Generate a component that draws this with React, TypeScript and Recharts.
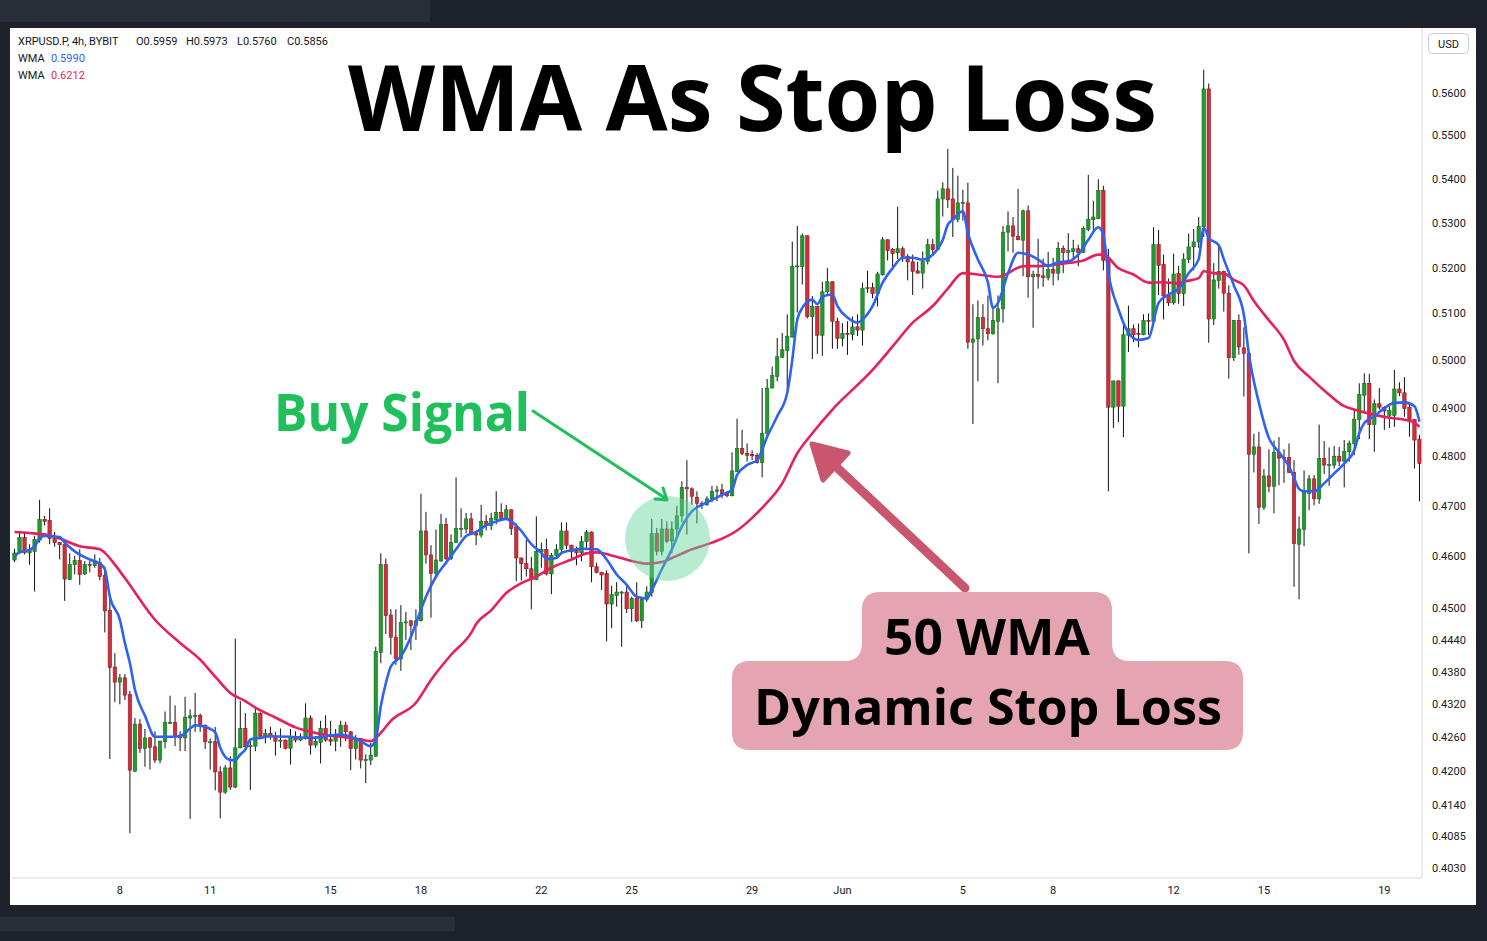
import React from 'react';
import { ComposedChart, Bar, Line, XAxis, YAxis } from 'recharts';

// 4h candles of XRPUSD.P (Bybit), first candle 2023-05-04 12:00 UTC
const startTime = Date.UTC(2023, 4, 4, 12);
const stepMs = 4 * 3600 * 1000;

// [open, high, low, close]
const candles: number[][] = [
  // 0-9
  [0.4593, 0.4615, 0.4589, 0.4607], [0.4607, 0.4648, 0.4606, 0.4637], [0.4637, 0.4648, 0.4604, 0.4607], [0.4607, 0.4624, 0.4584, 0.4614], [0.4610, 0.4640, 0.4532, 0.4633],
  [0.4632, 0.4712, 0.4627, 0.4673], [0.4673, 0.4680, 0.4661, 0.4669], [0.4671, 0.4695, 0.4624, 0.4635], [0.4635, 0.4648, 0.4619, 0.4627], [0.4627, 0.4628, 0.4594, 0.4623],
  // 10-19
  [0.4624, 0.4624, 0.4514, 0.4556], [0.4555, 0.4606, 0.4554, 0.4584], [0.4584, 0.4601, 0.4565, 0.4592], [0.4592, 0.4614, 0.4545, 0.4565], [0.4566, 0.4591, 0.4564, 0.4584],
  [0.4584, 0.4591, 0.4569, 0.4582], [0.4582, 0.4604, 0.4578, 0.4588], [0.4588, 0.4597, 0.4554, 0.4561], [0.4563, 0.4580, 0.4454, 0.4495], [0.4496, 0.4521, 0.4221, 0.4388],
  // 20-29
  [0.4389, 0.4415, 0.4324, 0.4361], [0.4361, 0.4376, 0.4320, 0.4369], [0.4369, 0.4376, 0.4328, 0.4337], [0.4338, 0.4345, 0.4090, 0.4201], [0.4199, 0.4295, 0.4198, 0.4284],
  [0.4284, 0.4293, 0.4232, 0.4240], [0.4240, 0.4275, 0.4207, 0.4259], [0.4259, 0.4260, 0.4202, 0.4242], [0.4243, 0.4271, 0.4214, 0.4219], [0.4219, 0.4254, 0.4213, 0.4253],
  // 30-39
  [0.4252, 0.4307, 0.4240, 0.4287], [0.4286, 0.4336, 0.4285, 0.4287], [0.4287, 0.4318, 0.4244, 0.4261], [0.4264, 0.4271, 0.4235, 0.4259], [0.4259, 0.4334, 0.4235, 0.4296],
  [0.4295, 0.4311, 0.4115, 0.4299], [0.4299, 0.4341, 0.4270, 0.4300], [0.4300, 0.4303, 0.4270, 0.4282], [0.4282, 0.4283, 0.4239, 0.4252], [0.4251, 0.4258, 0.4202, 0.4252],
  // 40-49
  [0.4252, 0.4279, 0.4165, 0.4198], [0.4198, 0.4208, 0.4116, 0.4162], [0.4162, 0.4210, 0.4159, 0.4205], [0.4205, 0.4226, 0.4166, 0.4171], [0.4171, 0.4442, 0.4169, 0.4241],
  [0.4241, 0.4326, 0.4240, 0.4276], [0.4276, 0.4304, 0.4235, 0.4243], [0.4243, 0.4253, 0.4166, 0.4245], [0.4244, 0.4316, 0.4235, 0.4304], [0.4304, 0.4305, 0.4258, 0.4262],
  // 50-59
  [0.4262, 0.4275, 0.4249, 0.4267], [0.4267, 0.4279, 0.4256, 0.4261], [0.4262, 0.4270, 0.4227, 0.4253], [0.4253, 0.4276, 0.4241, 0.4255], [0.4255, 0.4256, 0.4238, 0.4240],
  [0.4240, 0.4275, 0.4211, 0.4261], [0.4261, 0.4271, 0.4251, 0.4255], [0.4255, 0.4267, 0.4253, 0.4259], [0.4258, 0.4322, 0.4256, 0.4295], [0.4295, 0.4300, 0.4229, 0.4246],
  // 60-69
  [0.4246, 0.4262, 0.4241, 0.4253], [0.4251, 0.4290, 0.4213, 0.4276], [0.4276, 0.4300, 0.4252, 0.4255], [0.4256, 0.4290, 0.4245, 0.4253], [0.4253, 0.4275, 0.4235, 0.4261],
  [0.4261, 0.4290, 0.4243, 0.4282], [0.4282, 0.4288, 0.4253, 0.4270], [0.4270, 0.4271, 0.4201, 0.4240], [0.4240, 0.4264, 0.4220, 0.4258], [0.4258, 0.4259, 0.4204, 0.4219],
  // 70-79
  [0.4219, 0.4229, 0.4178, 0.4220], [0.4219, 0.4250, 0.4210, 0.4228], [0.4226, 0.4427, 0.4225, 0.4418], [0.4416, 0.4606, 0.4396, 0.4584], [0.4584, 0.4596, 0.4451, 0.4486],
  [0.4487, 0.4498, 0.4412, 0.4445], [0.4445, 0.4498, 0.4393, 0.4404], [0.4404, 0.4506, 0.4382, 0.4473], [0.4472, 0.4493, 0.4440, 0.4474], [0.4476, 0.4477, 0.4421, 0.4467],
  // 80-89
  [0.4467, 0.4498, 0.4440, 0.4476], [0.4476, 0.4724, 0.4475, 0.4650], [0.4650, 0.4688, 0.4586, 0.4603], [0.4603, 0.4622, 0.4482, 0.4567], [0.4567, 0.4653, 0.4557, 0.4593],
  [0.4591, 0.4684, 0.4590, 0.4663], [0.4663, 0.4676, 0.4593, 0.4596], [0.4596, 0.4643, 0.4593, 0.4627], [0.4627, 0.4757, 0.4626, 0.4655], [0.4654, 0.4695, 0.4637, 0.4655],
  // 90-99
  [0.4654, 0.4686, 0.4645, 0.4674], [0.4674, 0.4686, 0.4642, 0.4643], [0.4645, 0.4650, 0.4622, 0.4642], [0.4642, 0.4702, 0.4637, 0.4669], [0.4669, 0.4682, 0.4651, 0.4661],
  [0.4661, 0.4686, 0.4652, 0.4675], [0.4673, 0.4729, 0.4663, 0.4687], [0.4687, 0.4705, 0.4673, 0.4675], [0.4675, 0.4702, 0.4673, 0.4692], [0.4692, 0.4693, 0.4642, 0.4655],
  // 100-109
  [0.4658, 0.4665, 0.4552, 0.4597], [0.4597, 0.4598, 0.4553, 0.4586], [0.4586, 0.4633, 0.4561, 0.4576], [0.4576, 0.4599, 0.4498, 0.4556], [0.4555, 0.4679, 0.4554, 0.4610],
  [0.4609, 0.4627, 0.4578, 0.4614], [0.4614, 0.4635, 0.4563, 0.4566], [0.4566, 0.4607, 0.4527, 0.4602], [0.4602, 0.4624, 0.4599, 0.4614], [0.4614, 0.4667, 0.4604, 0.4650],
  // 110-119
  [0.4650, 0.4667, 0.4614, 0.4622], [0.4622, 0.4623, 0.4596, 0.4609], [0.4612, 0.4619, 0.4583, 0.4607], [0.4607, 0.4640, 0.4591, 0.4629], [0.4629, 0.4652, 0.4616, 0.4648],
  [0.4648, 0.4649, 0.4550, 0.4580], [0.4580, 0.4588, 0.4567, 0.4569], [0.4569, 0.4570, 0.4535, 0.4564], [0.4567, 0.4573, 0.4437, 0.4508], [0.4508, 0.4543, 0.4462, 0.4526],
  // 120-129
  [0.4524, 0.4550, 0.4503, 0.4531], [0.4529, 0.4533, 0.4427, 0.4531], [0.4531, 0.4542, 0.4491, 0.4499], [0.4499, 0.4522, 0.4474, 0.4519], [0.4519, 0.4550, 0.4474, 0.4476],
  [0.4476, 0.4522, 0.4462, 0.4517], [0.4517, 0.4542, 0.4512, 0.4531], [0.4530, 0.4674, 0.4522, 0.4645], [0.4645, 0.4656, 0.4602, 0.4610], [0.4610, 0.4674, 0.4602, 0.4654],
  // 130-139
  [0.4654, 0.4669, 0.4626, 0.4630], [0.4630, 0.4669, 0.4606, 0.4654], [0.4654, 0.4700, 0.4641, 0.4680], [0.4680, 0.4749, 0.4667, 0.4737], [0.4737, 0.4792, 0.4643, 0.4734],
  [0.4734, 0.4737, 0.4702, 0.4719], [0.4717, 0.4729, 0.4665, 0.4705], [0.4705, 0.4709, 0.4694, 0.4702], [0.4702, 0.4719, 0.4700, 0.4714], [0.4714, 0.4740, 0.4707, 0.4729],
  // 140-149
  [0.4729, 0.4740, 0.4709, 0.4732], [0.4732, 0.4744, 0.4715, 0.4724], [0.4725, 0.4729, 0.4717, 0.4720], [0.4720, 0.4808, 0.4719, 0.4770], [0.4769, 0.4877, 0.4768, 0.4816],
  [0.4816, 0.4854, 0.4802, 0.4806], [0.4806, 0.4826, 0.4789, 0.4802], [0.4804, 0.4812, 0.4792, 0.4801], [0.4802, 0.4806, 0.4785, 0.4787], [0.4787, 0.4941, 0.4757, 0.4847],
  // 150-159
  [0.4847, 0.4960, 0.4840, 0.4941], [0.4941, 0.4986, 0.4940, 0.4967], [0.4965, 0.5047, 0.4955, 0.5007], [0.5006, 0.5058, 0.5004, 0.5022], [0.5020, 0.5098, 0.4936, 0.5051],
  [0.5049, 0.5258, 0.5048, 0.5203], [0.5202, 0.5293, 0.5102, 0.5204], [0.5203, 0.5276, 0.5163, 0.5271], [0.5271, 0.5272, 0.5089, 0.5093], [0.5093, 0.5138, 0.5002, 0.5115],
  // 160-169
  [0.5115, 0.5116, 0.5013, 0.5053], [0.5053, 0.5169, 0.5009, 0.5147], [0.5147, 0.5199, 0.5143, 0.5169], [0.5169, 0.5170, 0.5024, 0.5083], [0.5083, 0.5091, 0.5024, 0.5046],
  [0.5046, 0.5079, 0.5029, 0.5057], [0.5057, 0.5083, 0.5011, 0.5055], [0.5055, 0.5093, 0.5042, 0.5071], [0.5071, 0.5098, 0.5051, 0.5064], [0.5064, 0.5167, 0.5031, 0.5154],
  // 170-179
  [0.5154, 0.5193, 0.5145, 0.5156], [0.5156, 0.5167, 0.5133, 0.5143], [0.5143, 0.5191, 0.5115, 0.5186], [0.5184, 0.5268, 0.5183, 0.5262], [0.5262, 0.5263, 0.5216, 0.5238],
  [0.5240, 0.5244, 0.5196, 0.5231], [0.5233, 0.5336, 0.5219, 0.5242], [0.5242, 0.5247, 0.5213, 0.5225], [0.5225, 0.5230, 0.5172, 0.5213], [0.5213, 0.5229, 0.5140, 0.5192],
  // 180-189
  [0.5193, 0.5213, 0.5187, 0.5188], [0.5188, 0.5236, 0.5154, 0.5214], [0.5214, 0.5264, 0.5207, 0.5251], [0.5251, 0.5264, 0.5229, 0.5240], [0.5240, 0.5373, 0.5239, 0.5354],
  [0.5354, 0.5392, 0.5314, 0.5377], [0.5377, 0.5469, 0.5333, 0.5352], [0.5354, 0.5425, 0.5268, 0.5308], [0.5308, 0.5407, 0.5301, 0.5345], [0.5345, 0.5375, 0.5305, 0.5346],
  // 190-199
  [0.5345, 0.5391, 0.5024, 0.5038], [0.5038, 0.5120, 0.4866, 0.5045], [0.5045, 0.5128, 0.4955, 0.5091], [0.5091, 0.5120, 0.5031, 0.5067], [0.5067, 0.5139, 0.5042, 0.5056],
  [0.5056, 0.5116, 0.5054, 0.5085], [0.5083, 0.5139, 0.4951, 0.5110], [0.5110, 0.5293, 0.5080, 0.5279], [0.5279, 0.5326, 0.5236, 0.5293], [0.5293, 0.5313, 0.5233, 0.5270],
  // 200-209
  [0.5270, 0.5377, 0.5261, 0.5262], [0.5261, 0.5330, 0.5181, 0.5327], [0.5327, 0.5339, 0.5134, 0.5180], [0.5180, 0.5193, 0.5069, 0.5185], [0.5185, 0.5264, 0.5154, 0.5181],
  [0.5182, 0.5220, 0.5158, 0.5178], [0.5178, 0.5235, 0.5172, 0.5196], [0.5196, 0.5222, 0.5161, 0.5188], [0.5188, 0.5257, 0.5172, 0.5243], [0.5243, 0.5249, 0.5188, 0.5234],
  // 210-219
  [0.5234, 0.5277, 0.5214, 0.5238], [0.5236, 0.5262, 0.5216, 0.5242], [0.5242, 0.5251, 0.5203, 0.5234], [0.5234, 0.5292, 0.5233, 0.5287], [0.5285, 0.5409, 0.5281, 0.5308],
  [0.5307, 0.5350, 0.5276, 0.5313], [0.5310, 0.5399, 0.5308, 0.5373], [0.5373, 0.5384, 0.5194, 0.5216], [0.5219, 0.5242, 0.4729, 0.4901], [0.4901, 0.4956, 0.4858, 0.4956],
  // 220-229
  [0.4956, 0.4957, 0.4870, 0.4903], [0.4903, 0.5075, 0.4839, 0.5054], [0.5053, 0.5117, 0.5017, 0.5067], [0.5067, 0.5076, 0.5038, 0.5054], [0.5057, 0.5078, 0.5027, 0.5055],
  [0.5054, 0.5098, 0.5053, 0.5085], [0.5085, 0.5100, 0.5054, 0.5083], [0.5083, 0.5290, 0.5082, 0.5251], [0.5251, 0.5284, 0.5140, 0.5205], [0.5207, 0.5229, 0.5087, 0.5138],
  // 230-239
  [0.5139, 0.5176, 0.5116, 0.5123], [0.5123, 0.5231, 0.5119, 0.5186], [0.5187, 0.5204, 0.5121, 0.5143], [0.5143, 0.5232, 0.5116, 0.5219], [0.5218, 0.5276, 0.5210, 0.5246],
  [0.5246, 0.5286, 0.5194, 0.5257], [0.5257, 0.5313, 0.5244, 0.5292], [0.5291, 0.5656, 0.5268, 0.5610], [0.5610, 0.5623, 0.5037, 0.5088], [0.5088, 0.5210, 0.5075, 0.5173],
  // 240-249
  [0.5172, 0.5248, 0.5154, 0.5192], [0.5192, 0.5193, 0.5104, 0.5144], [0.5144, 0.5161, 0.4961, 0.5005], [0.5005, 0.5086, 0.4998, 0.5085], [0.5085, 0.5098, 0.5011, 0.5028],
  [0.5026, 0.5070, 0.4923, 0.5014], [0.5014, 0.5015, 0.4606, 0.4804], [0.4804, 0.4846, 0.4767, 0.4819], [0.4819, 0.4850, 0.4664, 0.4697], [0.4697, 0.4774, 0.4692, 0.4760],
  // 250-259
  [0.4760, 0.4814, 0.4727, 0.4739], [0.4739, 0.4832, 0.4685, 0.4808], [0.4808, 0.4839, 0.4741, 0.4796], [0.4797, 0.4814, 0.4746, 0.4796], [0.4797, 0.4826, 0.4766, 0.4767],
  [0.4767, 0.4792, 0.4541, 0.4625], [0.4624, 0.4679, 0.4517, 0.4654], [0.4653, 0.4771, 0.4620, 0.4727], [0.4725, 0.4762, 0.4691, 0.4754], [0.4754, 0.4762, 0.4701, 0.4714],
  // 260-269
  [0.4714, 0.4865, 0.4704, 0.4795], [0.4795, 0.4831, 0.4764, 0.4782], [0.4782, 0.4818, 0.4740, 0.4783], [0.4782, 0.4821, 0.4775, 0.4800], [0.4800, 0.4819, 0.4780, 0.4790],
  [0.4790, 0.4833, 0.4737, 0.4810], [0.4809, 0.4832, 0.4789, 0.4826], [0.4826, 0.4897, 0.4802, 0.4876], [0.4875, 0.4951, 0.4835, 0.4927], [0.4926, 0.4972, 0.4892, 0.4951],
  // 270-280
  [0.4951, 0.4971, 0.4835, 0.4865], [0.4865, 0.4917, 0.4809, 0.4908], [0.4908, 0.4941, 0.4896, 0.4901], [0.4901, 0.4903, 0.4854, 0.4893], [0.4884, 0.4903, 0.4858, 0.4894],
  [0.4884, 0.4979, 0.4860, 0.4939], [0.4939, 0.4953, 0.4924, 0.4931], [0.4931, 0.4964, 0.4881, 0.4898], [0.4901, 0.4910, 0.4840, 0.4874], [0.4875, 0.4876, 0.4775, 0.4833],
  [0.4835, 0.4844, 0.4709, 0.4785],
];

const fastWma: number[][] = [
  [0, 0.4600], [1, 0.4608], [3, 0.4613], [4, 0.4620], [5, 0.4635], [6, 0.4640], [9, 0.4638], [10, 0.4627], [12, 0.4610], [15, 0.4594],
  [17, 0.4586], [18, 0.4575], [19, 0.4522], [21, 0.4478], [22, 0.4434], [23, 0.4396], [24, 0.4347], [26, 0.4299], [28, 0.4261], [30, 0.4261],
  [33, 0.4262], [35, 0.4276], [36, 0.4282], [38, 0.4279], [40, 0.4269], [41, 0.4241], [43, 0.4219], [44, 0.4219], [45, 0.4229], [46, 0.4238],
  [47, 0.4256], [49, 0.4259], [51, 0.4262], [55, 0.4261], [59, 0.4259], [62, 0.4262], [65, 0.4265], [67, 0.4261], [69, 0.4253], [71, 0.4244],
  [72, 0.4256], [73, 0.4317], [74, 0.4359], [75, 0.4390], [77, 0.4409], [79, 0.4446], [80, 0.4471], [82, 0.4522], [84, 0.4561], [86, 0.4588],
  [88, 0.4614], [90, 0.4640], [92, 0.4648], [94, 0.4661], [96, 0.4669], [98, 0.4674], [99, 0.4669], [101, 0.4650], [103, 0.4624], [105, 0.4607],
  [106, 0.4595], [108, 0.4597], [109, 0.4607], [111, 0.4612], [113, 0.4615], [116, 0.4614], [118, 0.4594], [120, 0.4565], [122, 0.4545], [124, 0.4522],
  [126, 0.4519], [127, 0.4535], [129, 0.4575], [131, 0.4614], [133, 0.4659], [135, 0.4689], [137, 0.4702], [139, 0.4712], [141, 0.4722], [143, 0.4732],
  [144, 0.4762], [146, 0.4782], [148, 0.4792], [150, 0.4840], [152, 0.4882], [154, 0.4931], [155, 0.5000], [156, 0.5087], [157, 0.5112], [159, 0.5130],
  [160, 0.5120], [161, 0.5136], [163, 0.5141], [164, 0.5116], [166, 0.5091], [168, 0.5080], [169, 0.5087], [171, 0.5116], [173, 0.5167], [175, 0.5199],
  [177, 0.5222], [179, 0.5222], [181, 0.5218], [183, 0.5229], [185, 0.5262], [186, 0.5296], [187, 0.5307], [189, 0.5326], [190, 0.5277], [192, 0.5218],
  [194, 0.5167], [195, 0.5112], [196, 0.5123], [198, 0.5188], [200, 0.5233], [202, 0.5229], [204, 0.5218], [206, 0.5204], [208, 0.5212], [210, 0.5214],
  [212, 0.5229], [214, 0.5262], [216, 0.5290], [217, 0.5273], [218, 0.5188], [220, 0.5109], [222, 0.5058], [224, 0.5043], [226, 0.5047], [228, 0.5123],
  [230, 0.5141], [232, 0.5154], [234, 0.5188], [236, 0.5219], [237, 0.5289], [238, 0.5266], [240, 0.5250], [241, 0.5219], [243, 0.5161], [245, 0.5097],
  [246, 0.5013], [248, 0.4910], [250, 0.4837], [252, 0.4808], [254, 0.4779], [255, 0.4756], [256, 0.4734], [257, 0.4729], [259, 0.4729], [261, 0.4745],
  [263, 0.4765], [265, 0.4785], [267, 0.4812], [268, 0.4847], [269, 0.4868], [271, 0.4882], [273, 0.4899], [275, 0.4910], [277, 0.4911], [279, 0.4903],
  [280, 0.4871],
];

const slowWma: number[][] = [
  [0, 0.4648], [3, 0.4646], [7, 0.4641], [9, 0.4635], [13, 0.4620], [17, 0.4614], [18, 0.4607], [20, 0.4584], [22, 0.4558], [28, 0.4478],
  [33, 0.4434], [37, 0.4403], [40, 0.4371], [43, 0.4341], [46, 0.4326], [48, 0.4314], [52, 0.4296], [56, 0.4278], [59, 0.4270], [62, 0.4264],
  [65, 0.4261], [69, 0.4256], [71, 0.4253], [73, 0.4268], [75, 0.4290], [80, 0.4323], [83, 0.4365], [87, 0.4412], [91, 0.4453], [92, 0.4470],
  [95, 0.4496], [98, 0.4529], [101, 0.4548], [104, 0.4561], [107, 0.4578], [111, 0.4594], [114, 0.4606], [116, 0.4608], [119, 0.4602], [123, 0.4591],
  [126, 0.4586], [129, 0.4589], [131, 0.4597], [135, 0.4614], [139, 0.4627], [144, 0.4651], [147, 0.4676], [149, 0.4696], [153, 0.4745], [156, 0.4806],
  [159, 0.4847], [163, 0.4896], [171, 0.4979], [175, 0.5029], [179, 0.5080], [183, 0.5116], [186, 0.5154], [189, 0.5188], [192, 0.5185], [196, 0.5180],
  [201, 0.5203], [205, 0.5204], [209, 0.5209], [213, 0.5216], [216, 0.5229], [217, 0.5229], [220, 0.5199], [223, 0.5185], [226, 0.5167], [229, 0.5168],
  [232, 0.5165], [233, 0.5169], [236, 0.5177], [237, 0.5192], [239, 0.5188], [241, 0.5187], [243, 0.5173], [245, 0.5161], [247, 0.5127], [250, 0.5085],
  [253, 0.5043], [255, 0.4998], [258, 0.4965], [262, 0.4927], [265, 0.4903], [267, 0.4896], [271, 0.4885], [274, 0.4879], [277, 0.4875], [279, 0.4869],
  [280, 0.4860],
];

const priceTicks = [0.403, 0.4085, 0.414, 0.42, 0.426, 0.432, 0.438, 0.444, 0.45, 0.46, 0.47, 0.48, 0.49, 0.5, 0.51, 0.52, 0.53, 0.54, 0.55, 0.56];
const dateTicks = ['2023-05-08T00', '2023-05-11T00', '2023-05-15T00', '2023-05-18T00', '2023-05-22T00', '2023-05-25T00', '2023-05-29T00',
  '2023-06-01T00', '2023-06-05T00', '2023-06-08T00', '2023-06-12T00', '2023-06-15T00', '2023-06-19T00'];
const dateLabels = ['8', '11', '15', '18', '22', '25', '29', 'Jun', '5', '8', '12', '15', '19'];

const UP = '#229a2e';
const UP_EDGE = '#136a1c';
const DOWN = '#cf2f3b';
const DOWN_EDGE = '#8c1a22';
const FAST = '#2c63f4';
const SLOW = '#e91e5f';
const TEXT = '#131722';
const AXIS_FONT = 'Roboto, sans-serif';

const fastMap = new Map(fastWma.map(([i, v]) => [i, v]));
const slowMap = new Map(slowWma.map(([i, v]) => [i, v]));

const rows = candles.map(([o, h, l, c], i) => ({
  t: new Date(startTime + i * stepMs).toISOString().slice(0, 13),
  o, h, l, c,
  range: [l, h],
  fast: fastMap.has(i) ? fastMap.get(i) : null,
  slow: slowMap.has(i) ? slowMap.get(i) : null,
}));

function Candle(props: any) {
  const { x, y, width, height, payload } = props;
  if (x == null || y == null || !payload) return null;
  const top = Math.min(y, y + height);
  const bottom = Math.max(y, y + height);
  const { o, h, l, c } = payload;
  const span = Math.log(h) - Math.log(l);
  // place open/close inside the high-low range on the same log scale
  const at = (v: number) => (span > 0 ? top + ((bottom - top) * (Math.log(h) - Math.log(v))) / span : top);
  const cx = x + width / 2;
  const up = c >= o;
  const bTop = at(Math.max(o, c));
  const bBot = at(Math.min(o, c));
  return (
    <g>
      <line x1={cx} x2={cx} y1={top} y2={bottom} stroke="#111" strokeWidth={1} />
      <rect x={cx - 1.7} y={bTop} width={3.4} height={Math.max(bBot - bTop, 1)}
        fill={up ? UP : DOWN} stroke={up ? UP_EDGE : DOWN_EDGE} strokeWidth={0.6} />
    </g>
  );
}

export default function App() {
  return (
    <div style={{ position: 'absolute', left: 0, top: 0, width: 1487, height: 941, background: '#1e222d', overflow: 'hidden' }}>
      <div style={{ position: 'absolute', left: 0, top: 0, width: 430, height: 22, background: '#2a2e39' }} />
      <div style={{ position: 'absolute', left: 0, top: 917, width: 455, height: 14, background: '#2a2e39' }} />
      <div style={{ position: 'absolute', left: 10, top: 28, width: 1466, height: 877, background: '#ffffff' }}>
        <ComposedChart width={1466} height={877} data={rows} barCategoryGap={0}
          margin={{ top: 0, right: 0, bottom: 0, left: 2 }}>
          <XAxis dataKey="t" ticks={dateTicks} interval={0} height={27}
            tickFormatter={(v: string) => dateLabels[dateTicks.indexOf(v)] ?? ''}
            tickLine={false} axisLine={{ stroke: '#d6d9e0' }}
            tick={{ fontSize: 11, fill: TEXT, fontFamily: AXIS_FONT }} />
          <YAxis orientation="right" scale="log" domain={[0.4013, 0.5757]} allowDataOverflow
            ticks={priceTicks} interval={0} width={54} tickMargin={4}
            tickFormatter={(v: number) => v.toFixed(4)}
            tickLine={false} axisLine={{ stroke: '#d6d9e0' }}
            tick={{ fontSize: 11, fill: TEXT, fontFamily: AXIS_FONT }} />
          <Bar dataKey="range" shape={(p: any) => <Candle {...p} />} isAnimationActive={false} />
          <Line dataKey="slow" type="monotone" stroke={SLOW} strokeWidth={2.6} dot={false}
            connectNulls isAnimationActive={false} />
          <Line dataKey="fast" type="monotone" stroke={FAST} strokeWidth={2.6} dot={false}
            connectNulls isAnimationActive={false} />
        </ComposedChart>
      </div>

      <svg width={1487} height={941} style={{ position: 'absolute', left: 0, top: 0, pointerEvents: 'none' }}>
        {/* legend */}
        <g fontFamily={AXIS_FONT} fontSize={11} fill={TEXT}>
          <text x={18} y={45}>XRPUSD.P, 4h, BYBIT</text>
          <text x={136} y={45}>O0.5959</text>
          <text x={186} y={45}>H0.5973</text>
          <text x={237} y={45}>L0.5760</text>
          <text x={287} y={45}>C0.5856</text>
          <text x={18} y={62}>WMA</text>
          <text x={51} y={62} fill={FAST}>0.5990</text>
          <text x={18} y={79}>WMA</text>
          <text x={51} y={79} fill={SLOW}>0.6212</text>
        </g>
        <rect x={1428.5} y={33.5} width={40} height={20} rx={4} fill="#fff" stroke="#c9ccd4" />
        <text x={1448.5} y={47.5} textAnchor="middle" fontFamily={AXIS_FONT} fontSize={11} fill={TEXT}>USD</text>

        {/* title */}
        <text x={752.5} y={131} textAnchor="middle" fontFamily="'Open Sans', sans-serif" fontWeight={700}
          fontSize={92} fill="#000" textLength={809} lengthAdjust="spacingAndGlyphs">WMA As Stop Loss</text>

        {/* buy signal */}
        <circle cx={667.5} cy={538.5} r={42.5} fill="#5fd49a" fillOpacity={0.45} />
        <text x={274} y={431} fontFamily="'Open Sans', sans-serif" fontWeight={700} fontSize={52}
          fill="#1fc05c" textLength={256} lengthAdjust="spacingAndGlyphs">Buy Signal</text>
        <line x1={533} y1={411} x2={665} y2={498} stroke="#1fc05c" strokeWidth={3} strokeLinecap="round" />
        <polyline points="655,499 667,500 663,488" fill="none" stroke="#1fc05c" strokeWidth={3}
          strokeLinecap="round" strokeLinejoin="round" />

        {/* stop loss callout */}
        <line x1={965} y1={588} x2={830} y2={461} stroke="#c9566e" strokeWidth={9} strokeLinecap="round" />
        <polygon points="812,444 848,453 823,480" fill="#c9566e" stroke="#c9566e" strokeWidth={5} strokeLinejoin="round" />
        <path d="M880 592 H1094 Q1112 592 1112 610 V643 Q1112 661 1130 661 H1225 Q1243 661 1243 679 V732 Q1243 750 1225 750 H750 Q732 750 732 732 V679 Q732 661 750 661 H844 Q862 661 862 643 V610 Q862 592 880 592 Z"
          fill="#e5a5b0" />
        <text x={987} y={655} textAnchor="middle" fontFamily="'Open Sans', sans-serif" fontWeight={700}
          fontSize={50} fill="#000" textLength={206} lengthAdjust="spacingAndGlyphs">50 WMA</text>
        <text x={988} y={725} textAnchor="middle" fontFamily="'Open Sans', sans-serif" fontWeight={700}
          fontSize={50} fill="#000" textLength={468} lengthAdjust="spacingAndGlyphs">Dynamic Stop Loss</text>
      </svg>
    </div>
  );
}
